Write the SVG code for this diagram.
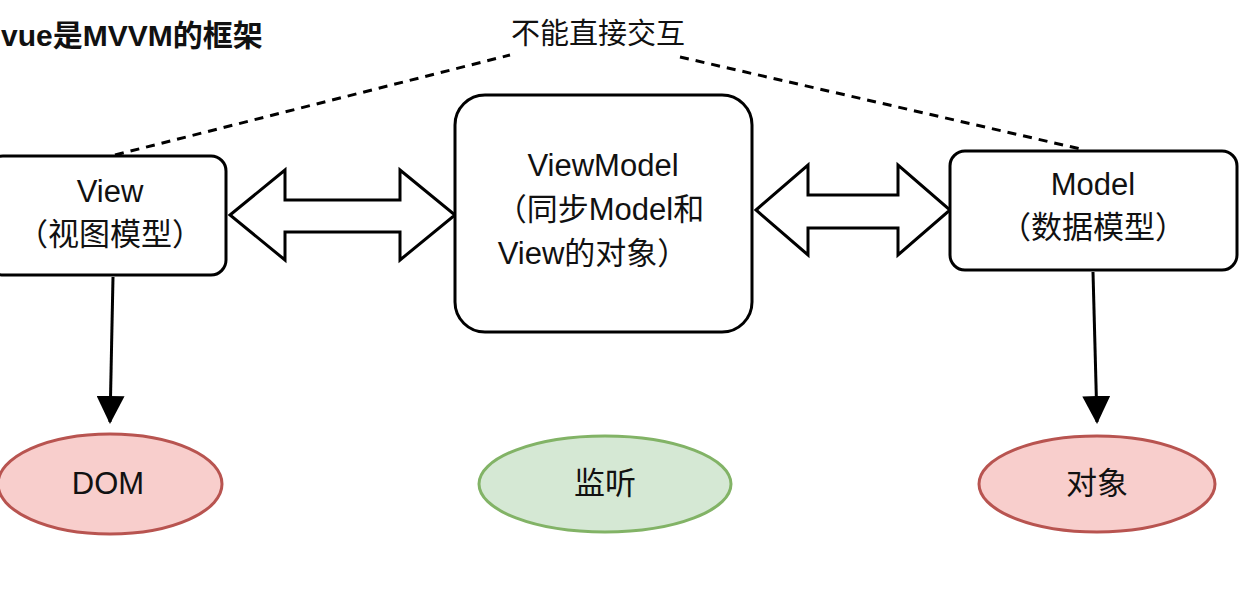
<svg xmlns="http://www.w3.org/2000/svg" width="1248" height="606" viewBox="0 0 1248 606">
<style>
text{font-family:"Liberation Sans","Noto Sans CJK SC",sans-serif;font-size:31px;fill:#111;text-anchor:middle}
.box{fill:#fff;stroke:#000;stroke-width:3}
.dash{stroke:#000;stroke-width:3;stroke-dasharray:9,7;fill:none}
.line{stroke:#000;stroke-width:3;fill:none}
.red{fill:#f8cecc;stroke:#b85450;stroke-width:3}
.green{fill:#d5e8d4;stroke:#82b366;stroke-width:3}
</style>
<defs>
<marker id="ah2" markerWidth="28" markerHeight="28" refX="26" refY="14" orient="auto" markerUnits="userSpaceOnUse"><path d="M0,0 L28,14 L0,28 Z" fill="#000"/></marker></defs>
<text x="1" y="46" style="text-anchor:start;font-weight:bold;font-size:30px">vue是MVVM的框架</text>
<text x="598" y="44" style="font-size:29px">不能直接交互</text>
<g id="connectors">
<path class="dash" d="M115,155 L510,55"/>
<path class="dash" d="M680,57 L1085,150"/>
<path class="box" d="M230,215 L285,170 L285,200 L400,200 L400,170 L455,215 L400,260 L400,232 L285,232 L285,260 Z"/>
<path class="box" d="M756,210 L808,165 L808,195 L898,195 L898,165 L950,210 L898,255 L898,228 L808,228 L808,255 Z"/>
<path class="line" d="M113,277 L110,422" marker-end="url(#ah2)"/>
<path class="line" d="M1093,272 L1097,422" marker-end="url(#ah2)"/>
</g>
<g id="view"><rect class="box" x="-12" y="156" width="238" height="119" rx="15"/><text x="110" y="202">View</text><text x="110" y="245">（视图模型）</text></g>
<g id="viewmodel"><rect class="box" x="455" y="95" width="297" height="237" rx="30"/><text x="603" y="176">ViewModel</text><text x="600" y="220">（同步Model和</text><text x="593" y="264">View的对象）</text></g>
<g id="model"><rect class="box" x="950" y="151" width="287" height="119" rx="15"/><text x="1093" y="195">Model</text><text x="1093" y="238">（数据模型）</text></g>
<g id="dom"><ellipse class="red" cx="110" cy="484" rx="112" ry="50"/><text x="108" y="494">DOM</text></g>
<g id="listen"><ellipse class="green" cx="605" cy="484" rx="126" ry="48"/><text x="605" y="494">监听</text></g>
<g id="obj"><ellipse class="red" cx="1097" cy="484" rx="118" ry="48"/><text x="1097" y="494">对象</text></g>
</svg>
